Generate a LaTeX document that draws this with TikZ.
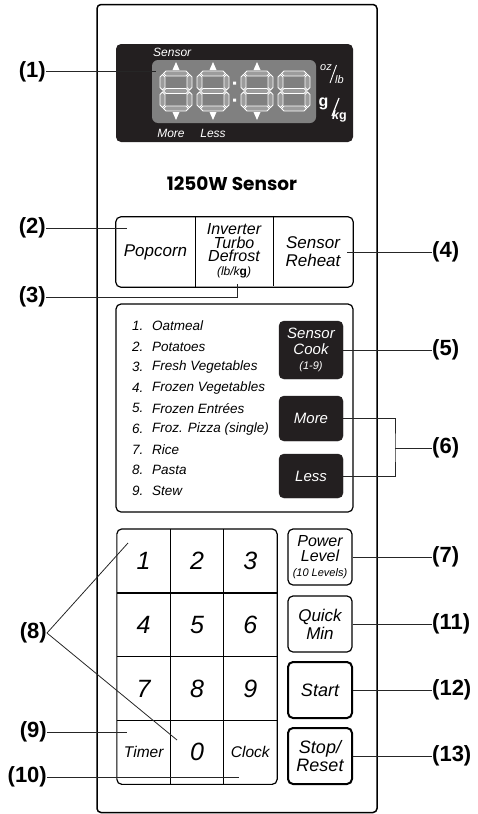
\documentclass[tikz,border=0pt]{standalone}
\usepackage{fontspec}
\setmainfont{Liberation Sans}
\newfontfamily\brandfont{Poppins}
\usetikzlibrary{positioning}
\definecolor{dispblack}{HTML}{231F20}
\definecolor{dispgray}{HTML}{808080}
\definecolor{segfill}{HTML}{9C9C9C}
\newcommand\fsz[1]{\fontsize{#1}{#1}\selectfont}

\begin{document}
\begin{tikzpicture}[x=1pt,y=-1pt,font=\itshape,
 every node/.style={inner sep=0pt},
 lbl/.style={font=\fsz{22}\bfseries\upshape},
 lead/.style={line width=0.8pt,draw=black!85},
 box/.style={draw,line width=1.2pt,rounded corners=5pt},
 bline/.style={line width=1.2pt},
 disptext/.style={text=white,font=\fsz{12}\itshape},
 blackkey/.style={draw=dispblack,fill=dispblack,rounded corners=5pt,text=white,minimum width=64pt,align=center},
 sidekey/.style={box,minimum width=64pt,minimum height=56pt,align=center},
 cell/.style={minimum width=53.3pt,minimum height=63.75pt,font=\fsz{25}\itshape},
 seg/.style={draw=white,line width=0.9pt,fill=segfill,line join=miter},
 digit/.pic={
  \foreach \c in {2.5,20,37.5}
   \path[seg] (3.5,\c) -- (6,\c-2.5) -- (26,\c-2.5) -- (28.5,\c) -- (26,\c+2.5) -- (6,\c+2.5) -- cycle;
  \foreach \c in {2.5,29.5}
   \foreach \p/\q in {2.5/20,20/37.5}
    \path[seg] (\c,\p+1) -- (\c+2.5,\p+3.5) -- (\c+2.5,\q-3.5) -- (\c,\q-1) -- (\c-2.5,\q-3.5) -- (\c-2.5,\p+3.5) -- cycle;
 }]
\useasboundingbox (0,0) rectangle (478,814);

% front panel
\node[draw,line width=1.5pt,rounded corners=4pt,minimum width=280pt,minimum height=808pt] (panel) at (237,408.5) {};

% display
\node[fill=dispblack,rounded corners=5pt,minimum width=237pt,minimum height=98pt] (display) at (234.5,93) {};
\node[fill=dispgray,rounded corners=6pt,minimum width=164pt,minimum height=63pt] (window) at (234,91.5) {};
\pic at (160,71) {digit};
\pic at (197,71) {digit};
\pic at (241,71) {digit};
\pic at (278,71) {digit};
\fill[white] (233,81.5) rectangle (236,84.5) (233,98.5) rectangle (236,101.5);
\foreach \x in {176,213,257} {
 \fill[white] (\x-3.5,70) -- (\x+3.5,70) -- (\x,62) -- cycle;
 \fill[white] (\x-3.5,112) -- (\x+3.5,112) -- (\x,120) -- cycle;
}
\node[disptext,anchor=west] (dsensor) at (153,52) {Sensor};
\node[disptext] (dmore) at (171,133) {More};
\node[disptext] (dless) at (213,133) {Less};
\node[disptext,font=\fsz{11}\itshape,anchor=south] (oz) at (326,71) {oz};
\node[disptext,font=\fsz{11}\itshape,anchor=south] (lb) at (339.5,83.5) {lb};
\draw[white,line width=0.9pt] (336.5,65) -- (330,83);
\node[disptext,font=\fsz{16}\bfseries\upshape,anchor=base] (g) at (323.5,106) {g};
\node[disptext,font=\fsz{12.5}\bfseries\itshape,anchor=base] (kg) at (339.5,119) {k{\upshape g}};
\draw[white,line width=1.2pt] (339,98) -- (332,116);

\node[font=\brandfont\bfseries\fsz{18.5}] (model) at (232,184) {1250W Sensor};

% top row of keys
\node[minimum width=79pt,minimum height=70pt,font=\fsz{17}\itshape] (popcorn) at (155.5,252) {Popcorn};
\node[minimum width=78pt,minimum height=70pt,align=center,font=\fontsize{16}{13.5}\selectfont\itshape] (defrost) at (234,251) {Inverter\\Turbo\\Defrost\\{\fsz{12}(lb/k{\upshape\bfseries g})}};
\node[minimum width=80pt,minimum height=70pt,align=center,font=\fontsize{17}{18}\selectfont\itshape] (reheat) at (313,252) {Sensor\\Reheat};
\draw[box] (popcorn.north west) rectangle (reheat.south east);
\draw[bline] (popcorn.north east) -- (popcorn.south east);
\draw[bline] (defrost.north east) -- (defrost.south east);

% sensor cook panel
\node[box,minimum width=237pt,minimum height=208pt] (cookpanel) at (234.5,408) {};
\foreach \n/\t in {1/Oatmeal,2/Potatoes,3/Fresh Vegetables,4/Frozen Vegetables,5/Frozen Entrées,6/Froz. Pizza (single),7/Rice,8/Pasta,9/Stew} {
 \node[anchor=west,font=\fsz{13.5}\itshape] (num\n) at (132,{326+20.6*(\n-1)}) {\n.};
 \node[anchor=west,font=\fsz{13.5}\itshape] (item\n) at (152,{326+20.6*(\n-1)}) {\t};
}
\node[blackkey,minimum height=58pt,font=\fontsize{15}{15.5}\selectfont\itshape] (cook) at (311,350) {Sensor\\Cook\\{\fsz{11}(1-9)}};
\node[blackkey,minimum height=45pt,font=\fsz{15}\itshape] (more) at (311,418.5) {More};
\node[blackkey,minimum height=44pt,font=\fsz{15}\itshape] (less) at (311,476) {Less};

% number pad
\foreach \t/\c/\r in {1/0/0,2/1/0,3/2/0,4/0/1,5/1/1,6/2/1,7/0/2,8/1/2,9/2/2}
 \node[cell] (k\t) at ({143.7+53.3*\c},{561+63.75*\r}) {\t};
\node[cell,font=\fsz{15.5}\itshape] (timer) at (143.7,752.3) {Timer};
\node[cell] (k0) at (197,752.3) {0};
\node[cell,font=\fsz{15.5}\itshape] (clock) at (250.3,752.3) {Clock};
\draw[box] (k1.north west) rectangle (clock.south east);
\draw[bline] (k1.north east) -- (timer.south east);
\draw[bline] (k2.north east) -- (k0.south east);
\draw[bline] (k1.south west) -- (k3.south east);
\draw[bline] (k4.south west) -- (k6.south east);
\draw[bline] (k7.south west) -- (k9.south east);

% side keys
\node[sidekey,font=\fontsize{16}{15}\selectfont\itshape] (power) at (320,557) {Power\\Level\\{\fsz{11}(10 Levels)}};
\node[sidekey,font=\fontsize{17}{18}\selectfont\itshape] (quick) at (320,624) {Quick\\Min};
\node[sidekey,line width=2pt,font=\fsz{18}\itshape] (start) at (320,690) {Start};
\node[sidekey,line width=2pt,font=\fontsize{18}{18}\selectfont\itshape] (stop) at (320,756) {Stop/\\Reset};

% callouts
\node[lbl,anchor=east] (l1) at (46,71.5) {(1)};
\node[lbl,anchor=east] (l2) at (46,228) {(2)};
\node[lbl,anchor=east] (l3) at (46,297) {(3)};
\node[lbl,anchor=west] (l4) at (432,252) {(4)};
\node[lbl,anchor=west] (l5) at (432,350) {(5)};
\node[lbl,anchor=west] (l6) at (432,448) {(6)};
\node[lbl,anchor=west] (l7) at (432,557) {(7)};
\node[lbl,anchor=east] (l8) at (47,633) {(8)};
\node[lbl,anchor=east] (l9) at (47,732) {(9)};
\node[lbl,anchor=east] (l10) at (47,777) {(10)};
\node[lbl,anchor=west] (l11) at (432,624) {(11)};
\node[lbl,anchor=west] (l12) at (432,690) {(12)};
\node[lbl,anchor=west] (l13) at (432,756) {(13)};

\coordinate (p1) at (156,71.5);
\coordinate (p2) at (127,228);
\coordinate (p3) at (237,284);
\coordinate (p4) at (347,252);
\coordinate (p6) at (395,448);
\coordinate (p8a) at (128,543);
\coordinate (p8b) at (177,740);
\coordinate (p9) at (127,732);
\coordinate (p10) at (239,777);

\draw[lead] (l1.east) -- (p1);
\draw[lead] (l2.east) -- (p2);
\draw[lead] (l3.east) -| (p3);
\draw[lead] (p4) -- (l4.west);
\draw[lead] (cook.east) -- (l5.west);
\draw[lead] (more.east) -| (p6) |- (less.east);
\draw[lead] (p6) -- (l6.west);
\draw[lead] (power.east) -- (l7.west);
\draw[lead] (l8.east) -- (p8a);
\draw[lead] (l8.east) -- (p8b);
\draw[lead] (l9.east) -- (p9);
\draw[lead] (l10.east) -- (p10);
\draw[lead] (quick.east) -- (l11.west);
\draw[lead] (start.east) -- (l12.west);
\draw[lead] (stop.east) -- (l13.west);
\end{tikzpicture}
\end{document}
